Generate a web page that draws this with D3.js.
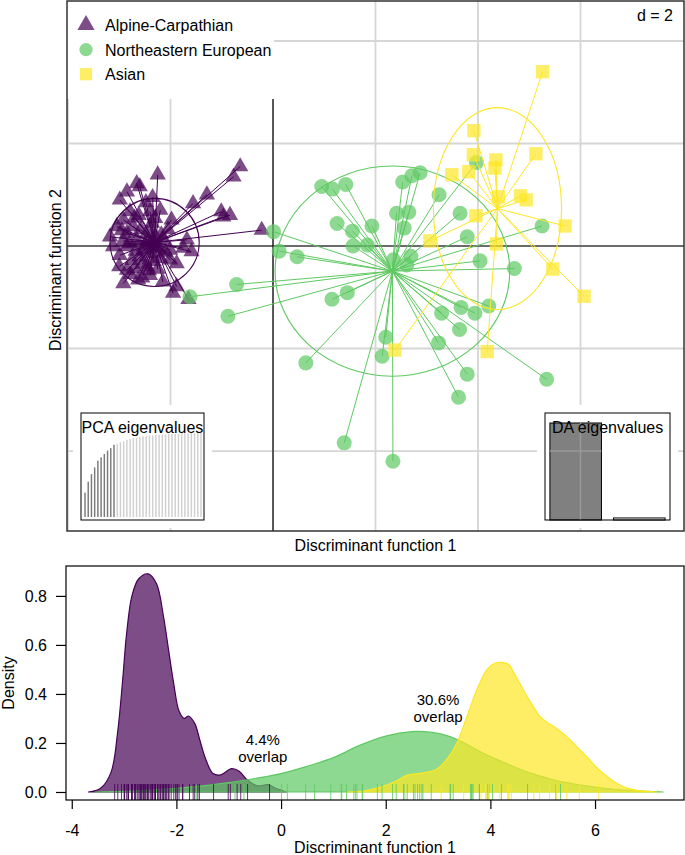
<!DOCTYPE html>
<html><head><meta charset="utf-8">
<script src="https://cdn.jsdelivr.net/npm/d3@7"></script>
<style>
body{margin:0;background:#fff}
svg{display:block}
text{font-family:"Liberation Sans",Arial,Helvetica,sans-serif;fill:#000}
</style>
</head><body>
<svg id="c" width="685" height="855"></svg>
<script>
// ---------------- DATA ----------------
const groups = ["Alpine-Carpathian", "Northeastern European", "Asian"];
const groupColors = ["#440154", "#5ec962", "#fde725"];

// Individual scores (LD1, LD2)
const alpineLD1 = [-0.64,-0.77,-2.25,-2.66,-2.85,-2.60,-2.99,-1.29,-1.56,-1.01,-0.84,-0.97,-1.98,-2.40,-2.30,-2.79,-2.92,-3.18,-3.05,-0.22,-1.68,-1.59,-1.75,-2.66,-2.46,-2.85,-2.99,-2.60,-2.40,-2.20,-2.01,-1.88,-2.85,-2.69,-2.46,-2.92,-2.63,-2.40,-1.95,-1.65,-1.88,-3.12,-2.73,-2.14,-2.27,-2.53,-2.01,-2.85,-2.50,-2.33,-2.58,-2.18,-2.75,-2.42,-2.10,-2.92,-2.36,-2.55,-2.70,-2.05,
  -2.95,-2.80,-2.68,-2.45,-2.30,-2.22,-2.62,-2.48,-2.20,-2.78,-2.55,-2.25,-2.15,-3.00,-2.35];
const alpineLD2 = [1.55,1.35,1.39,1.22,1.06,1.16,0.90,1.00,0.83,0.67,0.60,0.57,0.51,0.67,0.54,0.67,0.51,0.18,0.38,0.31,0.12,-0.11,-0.04,0.12,0.25,-0.01,-0.18,-0.21,-0.14,-0.24,-0.27,-0.34,-0.47,-0.44,-0.40,-0.73,-0.66,-0.57,-0.92,-1.04,-0.79,-0.01,0.38,0.12,-0.01,-0.08,-0.08,0.25,0.02,-0.30,0.32,0.22,-0.28,-0.48,-0.12,0.10,0.45,-0.62,0.55,0.32,
  0.30,0.05,-0.10,0.10,0.20,-0.05,0.60,0.85,0.70,-0.55,-0.35,-0.45,-0.70,-0.40,0.95];

const neLD1 = [0.95,1.16,1.42,2.53,2.71,2.87,3.24,2.41,2.65,1.25,1.55,1.93,2.56,0.01,1.56,1.84,3.65,3.79,5.25,0.12,0.47,2.69,2.61,2.35,4.04,4.71,1.15,1.45,3.29,3.67,3.94,4.21,3.64,2.20,3.23,2.13,0.64,3.79,5.34,3.62,3.97,-0.71,-1.62,-0.88,1.39,2.34];
const neLD2 = [1.16,1.11,1.20,1.25,1.37,1.43,1.00,0.64,0.66,0.44,0.29,0.39,0.35,0.28,0.00,0.02,0.64,0.18,0.39,-0.10,-0.21,-0.20,-0.37,-0.27,-0.29,-0.44,-1.04,-0.91,-1.31,-1.20,-1.31,-1.17,-1.63,-1.78,-1.89,-2.15,-2.28,-2.50,-2.60,-2.95,1.63,-0.75,-0.99,-1.37,-3.84,-4.20];

const asianLD1 = [5.26,3.92,3.91,4.35,4.33,5.13,3.49,3.82,4.40,4.83,4.94,3.96,5.70,3.06,4.36,5.46,6.07,4.18,2.38];
const asianLD2 = [3.40,2.25,1.78,1.68,1.52,1.80,1.39,1.45,0.96,0.98,0.90,0.59,0.39,0.10,0.04,-0.45,-0.98,-2.06,-2.03];

// group centroids and ellipse half-axes
const centroidLD1 = [-2.31, 2.33, 4.38];
const centroidLD2 = [0.07, -0.49, 0.73];
const ellipseRx = [0.87, 2.29, 1.25];
const ellipseRy = [0.86, 2.05, 1.97];

const gridTicks = [-4, -2, 0, 2, 4, 6];
const gridLabel = "d = 2";

// eigenvalue insets
const pcaEigen = [29,42,51,59,67,71,75,79,82,86,87,89,90,92,93,94,94,95,96,96,97,97,98,98,98,98,99,99,99,99,99.6,99.6,99.6,100,100,100,100];
const pcaRetained = 10;
const daEigen = [100, 2.1];

// densities along LD1
const densAlpineX = [-3.68,-3.45,-3.25,-3.12,-3.03,-2.95,-2.85,-2.72,-2.54,-2.38,-2.25,-2.15,-2.05,-1.95,-1.85,-1.77,-1.65,-1.55,-1.45,-1.30,-1.15,-0.95,-0.80,-0.65,-0.45,-0.25,-0.10,0.10];
const densAlpineY = [0,0.015,0.08,0.25,0.45,0.65,0.80,0.87,0.89,0.85,0.72,0.58,0.44,0.33,0.30,0.31,0.28,0.21,0.14,0.075,0.07,0.095,0.085,0.05,0.025,0.03,0.015,0];
const densNEX = [-3.56,-3.0,-2.5,-2.0,-1.5,-1.0,-0.5,0,0.5,1.0,1.5,2.0,2.5,2.85,3.2,3.5,3.8,4.1,4.45,4.8,5.1,5.4,5.7,6.0,6.35,6.7,7.0,7.3];
const densNEY = [0,0.003,0.008,0.015,0.025,0.038,0.055,0.075,0.105,0.14,0.19,0.228,0.246,0.244,0.228,0.2,0.165,0.135,0.103,0.075,0.056,0.04,0.029,0.02,0.011,0.006,0.003,0];
const densAsianX = [1.26,1.6,1.9,2.2,2.4,2.72,2.98,3.17,3.36,3.55,3.74,3.93,4.08,4.22,4.35,4.44,4.57,4.70,4.83,4.95,5.08,5.21,5.46,5.65,5.84,6.03,6.23,6.42,6.61,6.8,6.99,7.18];
const densAsianY = [0,0.005,0.02,0.045,0.068,0.078,0.094,0.134,0.2,0.307,0.416,0.498,0.525,0.529,0.52,0.49,0.44,0.39,0.345,0.307,0.285,0.267,0.226,0.185,0.144,0.10,0.063,0.035,0.016,0.007,0.003,0];

const densTicksX = [-4, -2, 0, 2, 4, 6];
const densTicksY = [0, 0.2, 0.4, 0.6, 0.8];
const overlapLabels = [{x: -0.35, y: 0.192, lines: ["4.4%", "overlap"]}, {x: 3.0, y: 0.355, lines: ["30.6%", "overlap"]}];

// --------------- DRAW ----------------
const svg = d3.select("#c");
const LD1s = [alpineLD1, neLD1, asianLD1];
const LD2s = [alpineLD2, neLD2, asianLD2];
const densXs = [densAlpineX, densNEX, densAsianX];
const densYs = [densAlpineY, densNEY, densAsianY];
const symbols = [d3.symbolTriangle, d3.symbolCircle, d3.symbolSquare];
const symSize = [115, 177, 178];
const legSize = [128, 140, 150];

// top panel
const L = 67, R = 684, T = 1, B = 531;
const tx = d3.scaleLinear().domain([-4.02, 8.02]).range([L, R]);
const ty = d3.scaleLinear().domain([-5.56, 4.78]).range([B, T]);
const topG = svg.append("g");

const gridG = topG.append("g").attr("stroke", "#d6d6d6").attr("stroke-width", 1.8);
gridTicks.filter(v => tx(v) > L + 1 && tx(v) < R - 1).forEach(v => {
  gridG.append("line").attr("x1", tx(v)).attr("x2", tx(v)).attr("y1", T).attr("y2", B);
});
gridTicks.filter(v => ty(v) > T + 1 && ty(v) < B - 1).forEach(v => {
  gridG.append("line").attr("y1", ty(v)).attr("y2", ty(v)).attr("x1", L).attr("x2", R);
});
// zero axes
topG.append("line").attr("x1", L).attr("x2", R).attr("y1", ty(0)).attr("y2", ty(0)).attr("stroke", "#000").attr("stroke-width", 1.2);
topG.append("line").attr("x1", tx(0)).attr("x2", tx(0)).attr("y1", T).attr("y2", B).attr("stroke", "#000").attr("stroke-width", 1.2);

// legend background
topG.append("rect").attr("x", L).attr("y", T).attr("width", tx(0) - L + 1).attr("height", 98).attr("fill", "#fff");

// groups
groups.forEach((g, i) => {
  const gg = topG.append("g");
  const xs = LD1s[i], ys = LD2s[i];
  const pts = xs.map((x, j) => [x, ys[j]]);
  gg.selectAll("path.pt").data(pts).join("path")
    .attr("transform", d => `translate(${tx(d[0])},${ty(d[1])})`)
    .attr("d", d3.symbol().type(symbols[i]).size(symSize[i]))
    .attr("fill", groupColors[i]).attr("fill-opacity", 0.7);
  gg.selectAll("line.st").data(pts).join("line")
    .attr("x1", tx(centroidLD1[i])).attr("y1", ty(centroidLD2[i]))
    .attr("x2", d => tx(d[0])).attr("y2", d => ty(d[1]))
    .attr("stroke", groupColors[i]).attr("stroke-width", 1);
  gg.append("ellipse")
    .attr("cx", tx(centroidLD1[i])).attr("cy", ty(centroidLD2[i]))
    .attr("rx", tx(centroidLD1[i] + ellipseRx[i]) - tx(centroidLD1[i]))
    .attr("ry", ty(centroidLD2[i]) - ty(centroidLD2[i] + ellipseRy[i]))
    .attr("fill", "none").attr("stroke", groupColors[i]).attr("stroke-width", 1.1);
});

// legend
groups.forEach((g, i) => {
  const cy = 25 + i * 24.6;
  topG.append("path").attr("transform", `translate(86,${cy})`)
    .attr("d", d3.symbol().type(symbols[i]).size(legSize[i]))
    .attr("fill", groupColors[i]).attr("fill-opacity", 0.7);
  topG.append("text").attr("x", 105).attr("y", cy + 6).attr("font-size", 16).text(g);
});
topG.append("text").attr("x", 673).attr("y", 21).attr("font-size", 16).attr("text-anchor", "end").text(gridLabel);

// PCA inset
(function(){
  const bx0 = 81, bx1 = 204, by0 = 413, by1 = 520;
  topG.append("rect").attr("x", bx0 - 8).attr("y", by0 - 8).attr("width", bx1 - bx0 + 16).attr("height", by1 - by0 + 16).attr("fill", "#fff");
  const xb = d3.scaleBand().domain(d3.range(pcaEigen.length)).range([bx0 + 1.5, bx1 - 0.5]).padding(0.55);
  const yb = d3.scaleLinear().domain([0, 100]).range([517, 433]);
  topG.append("g").selectAll("rect").data(pcaEigen).join("rect")
    .attr("x", (d, j) => xb(j)).attr("width", xb.bandwidth())
    .attr("y", d => yb(d)).attr("height", d => yb(0) - yb(d))
    .attr("fill", (d, j) => j < pcaRetained ? "#7a7a7a" : "#d0d0d0");
  topG.append("rect").attr("x", bx0).attr("y", by0).attr("width", bx1 - bx0).attr("height", by1 - by0)
    .attr("fill", "none").attr("stroke", "#000").attr("stroke-width", 1);
  topG.append("text").attr("x", bx0 + 0.5).attr("y", 433).attr("font-size", 16).text("PCA eigenvalues");
})();

// DA inset
(function(){
  const bx0 = 545, bx1 = 670, by0 = 413, by1 = 520;
  topG.append("rect").attr("x", bx0 - 8).attr("y", by0 - 8).attr("width", bx1 - bx0 + 16).attr("height", by1 - by0 + 16).attr("fill", "#fff");
  const xb = d3.scaleBand().domain(d3.range(daEigen.length)).range([bx0 + 3, bx1 - 3]).paddingInner(0.19).paddingOuter(0.03);
  const yb = d3.scaleLinear().domain([0, 100]).range([by1, 423]);
  const defs = svg.append("defs");
  defs.append("clipPath").attr("id", "daclip").append("rect")
    .attr("x", xb(0)).attr("y", yb(daEigen[0])).attr("width", xb.bandwidth()).attr("height", yb(0) - yb(daEigen[0]));
  topG.append("g").selectAll("rect").data(daEigen).join("rect")
    .attr("x", (d, j) => xb(j)).attr("width", xb.bandwidth())
    .attr("y", d => yb(d)).attr("height", d => yb(0) - yb(d))
    .attr("fill", (d, j) => j === 0 ? "#808080" : "#ffffff").attr("stroke", "#000").attr("stroke-width", 1);
  const cg = topG.append("g").attr("clip-path", "url(#daclip)").attr("stroke", "#999").attr("stroke-width", 1.5);
  gridTicks.forEach(v => { cg.append("line").attr("x1", tx(v)).attr("x2", tx(v)).attr("y1", by0).attr("y2", by1); });
  gridTicks.forEach(v => { cg.append("line").attr("y1", ty(v)).attr("y2", ty(v)).attr("x1", bx0).attr("x2", bx1); });
  topG.append("rect").attr("x", bx0).attr("y", by0).attr("width", bx1 - bx0).attr("height", by1 - by0)
    .attr("fill", "none").attr("stroke", "#000").attr("stroke-width", 1);
  topG.append("text").attr("x", bx0 + 7).attr("y", 433).attr("font-size", 16).text("DA eigenvalues");
})();

// frame
topG.append("rect").attr("x", L).attr("y", T).attr("width", R - L).attr("height", B - T)
  .attr("fill", "none").attr("stroke", "#333").attr("stroke-width", 1.5);
topG.append("text").attr("x", (L + R) / 2).attr("y", 551).attr("font-size", 16).attr("text-anchor", "middle").text("Discriminant function 1");
topG.append("text").attr("transform", `translate(61,${(T + B) / 2 + 4}) rotate(-90)`).attr("font-size", 16).attr("text-anchor", "middle").text("Discriminant function 2");

// bottom panel
const BL = 66, BR = 684, BT = 566, BB = 800;
const bx = d3.scaleLinear().domain([-4.11, 7.70]).range([BL, BR]);
const by = d3.scaleLinear().domain([-0.0327, 0.922]).range([BB, BT]);
const bot = svg.append("g");

const area = d3.area().x(d => bx(d[0])).y0(by(0)).y1(d => by(d[1])).curve(d3.curveCatmullRom.alpha(0.5));
groups.forEach((g, i) => {
  const pts = densXs[i].map((x, j) => [x, densYs[i][j]]);
  bot.append("path").attr("d", area(pts)).attr("fill", groupColors[i]).attr("fill-opacity", 0.7)
    .attr("stroke", groupColors[i]).attr("stroke-width", 1.2).attr("stroke-linejoin", "round");
});
// rug
groups.forEach((g, i) => {
  bot.append("g").selectAll("line").data(LD1s[i]).join("line")
    .attr("x1", d => bx(d)).attr("x2", d => bx(d)).attr("y1", BB - 16).attr("y2", BB)
    .attr("stroke", groupColors[i]).attr("stroke-width", 1).attr("stroke-opacity", 0.8);
});
// overlap labels
overlapLabels.forEach(o => {
  o.lines.forEach((t, k) => {
    bot.append("text").attr("x", bx(o.x)).attr("y", by(o.y) + k * 17).attr("font-size", 15).attr("text-anchor", "middle").text(t);
  });
});
bot.append("rect").attr("x", BL).attr("y", BT).attr("width", BR - BL).attr("height", BB - BT)
  .attr("fill", "none").attr("stroke", "#000").attr("stroke-width", 1.2);

const xAxis = bot.append("g").attr("transform", `translate(0,${BB})`)
  .call(d3.axisBottom(bx).tickValues(densTicksX).tickSize(9).tickPadding(16).tickFormat(d => String(d)));
const yAxis = bot.append("g").attr("transform", `translate(${BL},0)`)
  .call(d3.axisLeft(by).tickValues(densTicksY).tickSize(10).tickPadding(9).tickFormat(d => d.toFixed(1)));
[xAxis, yAxis].forEach(a => {
  a.select(".domain").remove();
  a.selectAll("text").attr("font-size", 16).attr("font-family", '"Liberation Sans",Arial,sans-serif').attr("fill", "#000");
  a.selectAll("line").attr("stroke", "#000").attr("stroke-width", 1.2);
});
bot.append("text").attr("x", (BL + BR) / 2).attr("y", 853).attr("font-size", 16).attr("text-anchor", "middle").text("Discriminant function 1");
bot.append("text").attr("transform", `translate(14,683) rotate(-90)`).attr("font-size", 16).attr("text-anchor", "middle").text("Density");
</script>
</body></html>
